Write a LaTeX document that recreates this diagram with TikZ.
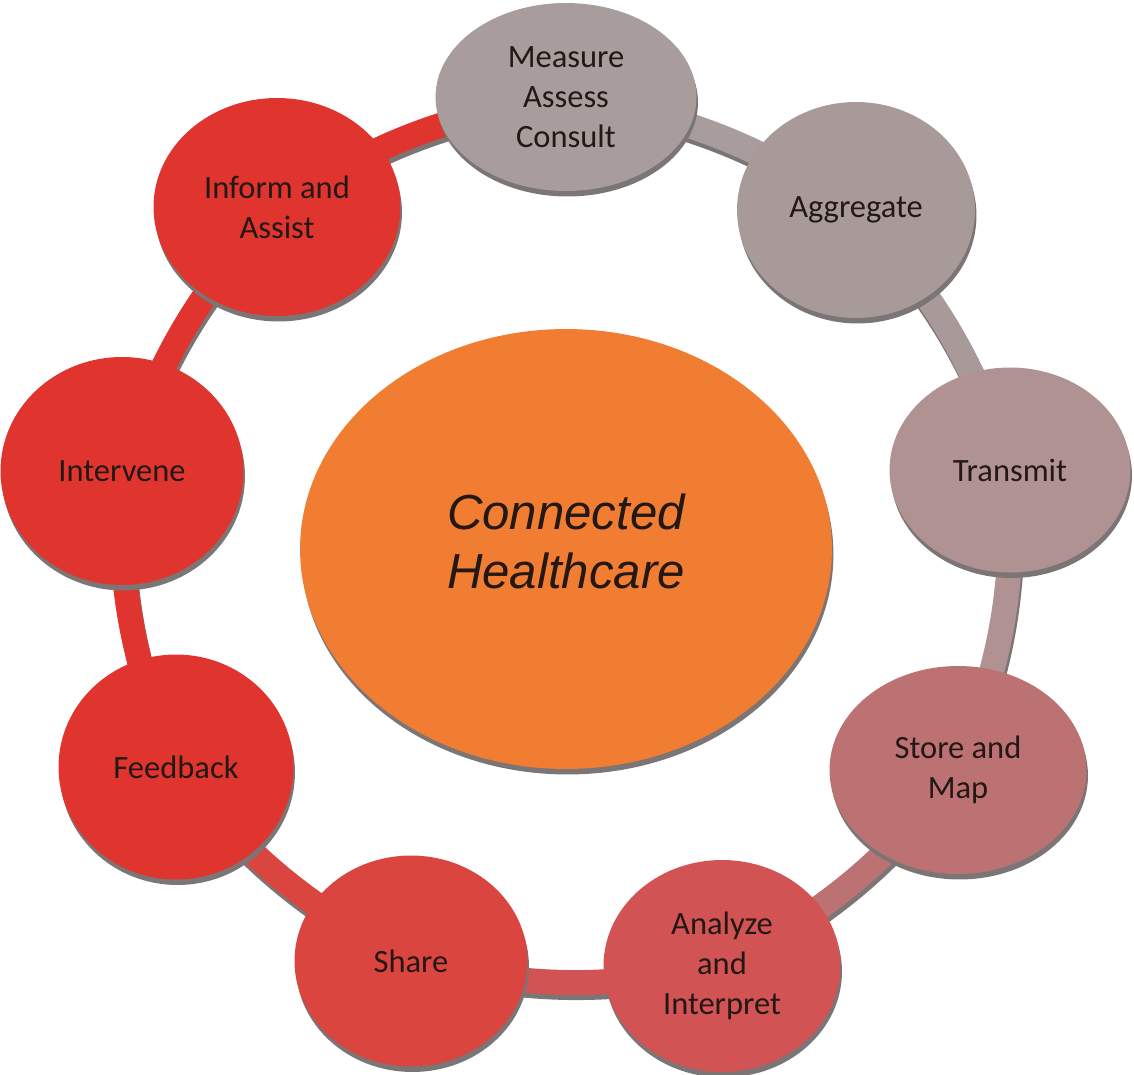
\documentclass[tikz,border=0pt]{standalone}
\usepackage{fontspec}
\setmainfont{Carlito}
\newfontfamily\arialfont{Liberation Sans}
\usetikzlibrary{shapes.geometric,shadows,backgrounds}

\definecolor{inkdark}{HTML}{231815}
\definecolor{shadowgray}{HTML}{7B7575}
\definecolor{cMeasure}{HTML}{A99C9C}
\definecolor{cAggregate}{HTML}{A99A9A}
\definecolor{cTransmit}{HTML}{B09292}
\definecolor{cStore}{HTML}{BC7272}
\definecolor{cAnalyze}{HTML}{D15353}
\definecolor{cShare}{HTML}{DA4540}
\definecolor{cRed}{HTML}{E0352F}
\definecolor{cHub}{HTML}{F07D32}

\tikzset{
  stage/.style={ellipse, inner sep=0pt, text=inkdark, align=center,
    font=\fontsize{18.5}{22.7}\selectfont,
    drop shadow={shadow xshift=0.03cm, shadow yshift=-0.11cm, fill=shadowgray, opacity=1}},
  hub/.style={stage, fill=cHub},
  hubtext/.style={font=\arialfont\itshape\fontsize{28}{33.5}\selectfont, text=inkdark, align=center},
  band/.style={line width=0.5cm, bend left=12},
}

\begin{document}
\begin{tikzpicture}[x=0.02cm,y=-0.02cm]
\useasboundingbox (0,0) rectangle (1134,1075);

% the stages round the ring
\node[stage, fill=cMeasure, minimum width=5.22cm, minimum height=3.76cm] (measure) at (566,97) {Measure\\Assess\\Consult};
\node[stage, fill=cAggregate, minimum width=4.76cm, minimum height=4.32cm] (aggregate) at (856,210) {Aggregate};
\node[stage, fill=cTransmit, minimum width=4.82cm, minimum height=4.10cm] (transmit) at (1010,470) {Transmit};
\node[stage, fill=cStore, minimum width=5.14cm, minimum height=4.16cm] (store) at (958,770) {Store and\\Map};
\node[stage, fill=cAnalyze, minimum width=4.74cm, minimum height=4.24cm] (analyze) at (722,966) {Analyze\\and\\Interpret};
\node[stage, fill=cShare, minimum width=4.66cm, minimum height=4.22cm] (share) at (411,961) {Share};
\node[stage, fill=cRed, minimum width=4.70cm, minimum height=4.50cm] (feedback) at (176,767) {Feedback};
\node[stage, fill=cRed, minimum width=4.86cm, minimum height=4.56cm] (intervene) at (122,471) {Intervene};
\node[stage, fill=cRed, minimum width=4.94cm, minimum height=4.36cm] (inform) at (277,207) {Inform and\\Assist};

% centre
\node[hub, minimum width=10.64cm, minimum height=8.80cm] (core) at (566,549) {};
\node[hubtext] (corelabel) at (566,541) {Connected\\Healthcare};

% ring behind the stages
\begin{pgfonlayer}{background}
\foreach \a/\b/\c in {measure/aggregate/cMeasure, aggregate/transmit/cAggregate,
    transmit/store/cTransmit, store/analyze/cStore, analyze/share/cAnalyze,
    share/feedback/cShare, feedback/intervene/cRed, intervene/inform/cRed,
    inform/measure/cRed}
{
  \draw[band, shadowgray, transform canvas={shift={(0.03cm,-0.1cm)}}] (\a.center) to (\b.center);
  \draw[band, \c] (\a.center) to (\b.center);
}
\end{pgfonlayer}
\end{tikzpicture}
\end{document}
